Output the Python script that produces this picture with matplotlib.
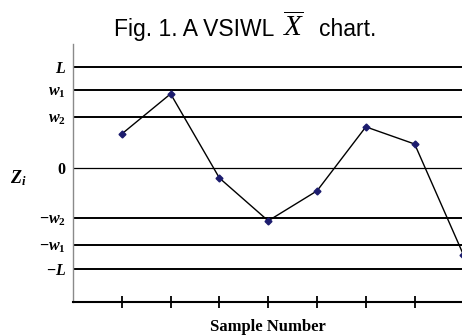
import matplotlib
matplotlib.use('Agg')
import matplotlib.pyplot as plt

plt.rcParams['mathtext.fontset'] = 'custom'
plt.rcParams['mathtext.it'] = 'Liberation Serif:italic'
plt.rcParams['mathtext.bf'] = 'Liberation Serif:italic:bold'
plt.rcParams['mathtext.rm'] = 'Liberation Serif:bold'

# chart data
samples = [1, 2, 3, 4, 5, 6, 7, 8]
z_values = [1.01, 2.2, -0.30, -1.57, -0.68, 1.22, 0.71, -2.58]
limit_values = [3.0, 2.3, 1.5, 0.0, -1.5, -2.3, -3.0]
limit_labels = [r'$\mathbf{L}$', r'$\mathbf{w}_1$', r'$\mathbf{w}_2$', r'$0$',
                r'$-\mathbf{w}_2$', r'$-\mathbf{w}_1$', r'$-\mathbf{L}$']

fig = plt.figure(figsize=(4.62, 3.36), dpi=100)
ax = fig.add_axes([73 / 462, 34 / 336, 389 / 462, 258 / 336])

for v in limit_values:
    ax.axhline(v, color='black', lw=0.9 if v == 0 else 1.4)

ax.plot(samples, z_values, color='black', lw=1.0, marker='D', markersize=3.5,
        markerfacecolor='#1c1c6e', markeredgecolor='#1c1c6e', clip_on=False)

ax.set_xlim(0, 7.97)
ax.set_ylim(-3.98, 3.68)
ax.set_xticks(samples[:-1])
ax.set_xticklabels([])
ax.tick_params(axis='x', direction='inout', length=9, width=1.3, color='black')
ax.set_yticks(limit_values)
ax.set_yticklabels(limit_labels, fontsize=11.5)
ax.tick_params(axis='y', length=0, pad=5)

ax.spines['top'].set_visible(False)
ax.spines['right'].set_visible(False)
ax.spines['left'].set_color('#8a8a8a')
ax.spines['left'].set_linewidth(1.0)
ax.spines['bottom'].set_linewidth(1.5)

ax.set_xlabel('Sample Number', fontfamily='Liberation Serif', fontweight='bold',
              fontsize=12, labelpad=4)
fig.text(18 / 462, 1 - 178 / 336, r'$\mathbf{Z}_\mathbf{i}$', fontsize=13,
         ha='center', va='center')

# title in three pieces so the X can be larger
base_y = 1 - 36 / 336
fig.text(274 / 462, base_y, 'Fig. 1. A VSIWL', fontfamily='Liberation Sans',
         fontsize=16.5, ha='right', va='baseline')
fig.text(294 / 462, base_y, r'$\overline{X}$', fontsize=21, ha='center', va='baseline')
fig.text(319 / 462, base_y, 'chart.', fontfamily='Liberation Sans',
         fontsize=16.5, ha='left', va='baseline')

fig.savefig('out.png', dpi=100)
